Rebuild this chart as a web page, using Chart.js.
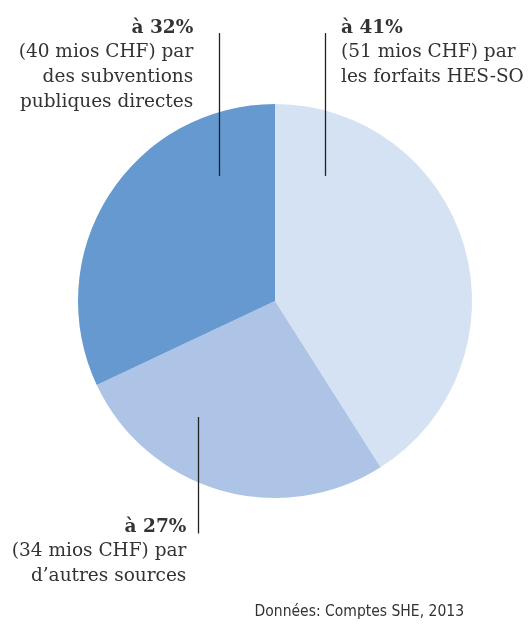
<!DOCTYPE html>
<html>
<head>
<meta charset="utf-8">
<script src="https://cdn.jsdelivr.net/npm/chart.js@4.4.1/dist/chart.umd.min.js"></script>
<style>
  html, body { margin: 0; padding: 0; background: #fff; }
  #wrap { width: 531px; height: 624px; position: relative; }
</style>
</head>
<body>
<div id="wrap"><canvas id="camembert"></canvas></div>
<script>
// ── DONNÉES (sens horaire depuis midi)
const SOURCES = ['Forfaits HES-SO', 'Autres sources', 'Subventions publiques directes'];
const PARTS = [41, 27, 32];
const COULEURS = ['#d5e2f3', '#adc4e6', '#6699d0'];
const TITRES = ['à 41%', 'à 27%', 'à 32%'];
const TEXTES = [
  ['(51 mios CHF) par', 'les forfaits HES-SO'],
  ['(34 mios CHF) par', 'd\u2019autres sources'],
  ['(40 mios CHF) par', 'des subventions', 'publiques directes']
];
const SOURCE_TXT = 'Données: Comptes SHE, 2013';

const SERIF = '"DejaVu Serif", serif';
const SANS = '"DejaVu Sans Condensed", "DejaVu Sans", sans-serif';
const ENCRE = '#333333';

// position des étiquettes, en rayons autour du centre du camembert
// lx = x du trait, y0/y1 = bornes du trait, tx/ty = ancre du texte, align
const ETIQ = [
  { lx: 0.254, y0: -1.36, y1: -0.635, tx: 0.335, ty: -1.36, align: 'left' },
  { lx: -0.39, y0: 0.589, y1: 1.18, tx: -0.45, ty: 1.175, align: 'right' },
  { lx: -0.284, y0: -1.36, y1: -0.635, tx: -0.415, ty: -1.36, align: 'right' }
];

const etiquettes = {
  id: 'etiquettes',
  afterDraw(chart) {
    const ctx = chart.ctx;
    const arc = chart.getDatasetMeta(0).data[0];
    const cx = arc.x, cy = arc.y, r = arc.outerRadius;
    ctx.save();
    ETIQ.forEach((e, i) => {
      // trait de rappel
      const x = Math.round(cx + e.lx * r) + 0.5;
      ctx.strokeStyle = '#222';
      ctx.lineWidth = 1.3;
      ctx.beginPath();
      ctx.moveTo(x, cy + e.y0 * r);
      ctx.lineTo(x, cy + e.y1 * r);
      ctx.stroke();

      // texte
      const tx = cx + e.tx * r;
      let ty = cy + e.ty * r;
      ctx.fillStyle = ENCRE;
      ctx.textAlign = e.align;
      ctx.textBaseline = 'alphabetic';
      ctx.font = 'bold 18.5px ' + SERIF;
      ctx.fillText(TITRES[i], tx, ty);
      ctx.font = '18.5px ' + SERIF;
      TEXTES[i].forEach((l, k) => { ty += k === 0 ? 24 : 25; ctx.fillText(l, tx, ty); });
    });
    ctx.font = '15.5px ' + SANS;
    ctx.fillStyle = ENCRE;
    ctx.textAlign = 'right';
    ctx.fillText(SOURCE_TXT, 464, 616);
    ctx.restore();
  }
};

new Chart(document.getElementById('camembert'), {
  type: 'pie',
  data: {
    labels: SOURCES,
    datasets: [{
      data: PARTS,
      backgroundColor: COULEURS,
      borderWidth: 0,
      hoverOffset: 0
    }]
  },
  options: {
    responsive: true,
    maintainAspectRatio: false,
    animation: false,
    events: [],
    layout: { padding: { top: 104, bottom: 126, left: 78, right: 59 } },
    plugins: {
      legend: { display: false },
      tooltip: { enabled: false }
    }
  },
  plugins: [etiquettes]
});
</script>
</body>
</html>
